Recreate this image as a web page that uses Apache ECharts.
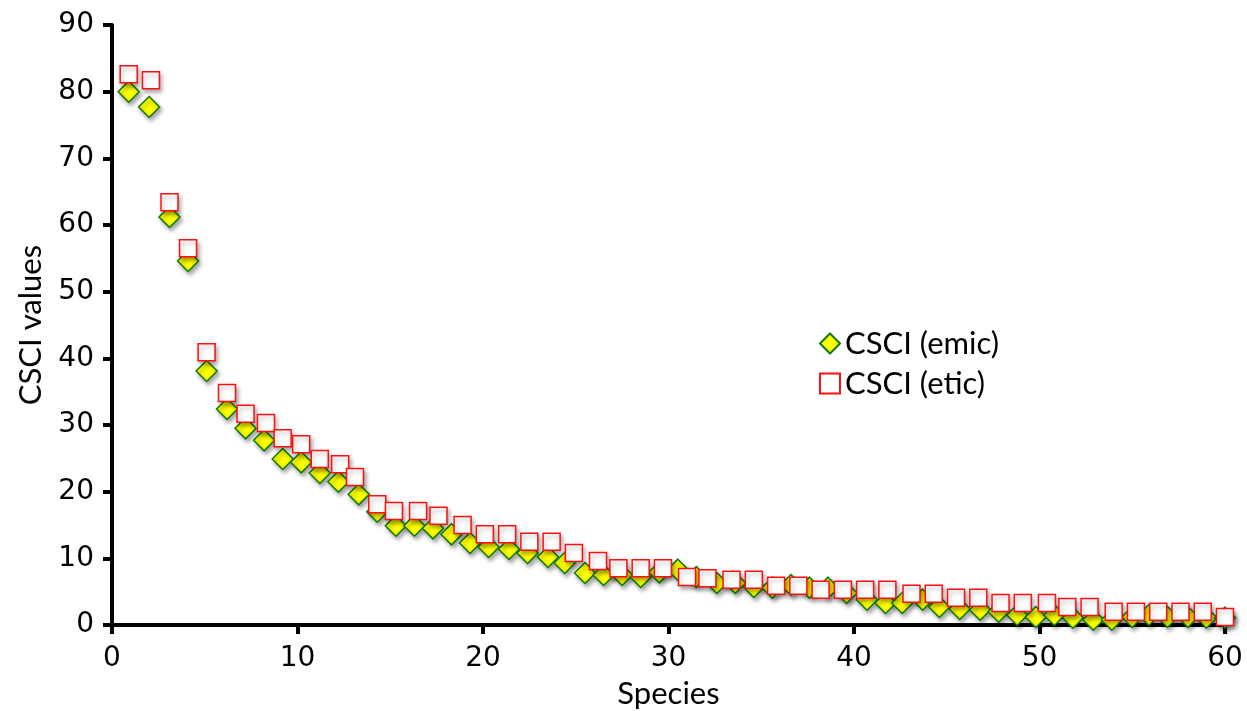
<!DOCTYPE html>
<html>
<head>
<meta charset="utf-8">
<script src="https://cdn.jsdelivr.net/npm/echarts@6/dist/echarts.min.js"></script>
<style>
html,body{margin:0;padding:0;background:#fff;}
#chart{width:1247px;height:711px;}
</style>
</head>
<body>
<div id="chart"></div>
<script>
// CSCI (emic) — diamonds
const emicX = [0.9,2.0,3.1,4.1,5.1,6.2,7.2,8.2,9.2,10.2,11.2,12.2,13.3,14.3,15.3,16.3,17.3,18.3,19.3,20.3,21.4,22.4,23.5,24.4,25.5,26.5,27.5,28.5,29.5,30.5,31.5,32.6,33.6,34.6,35.6,36.6,37.6,38.6,39.6,40.7,41.7,42.6,43.7,44.6,45.7,46.8,47.8,48.8,49.8,50.8,51.8,52.9,53.9,55.0,55.9,56.9,58.0,59.0,60.0];
const emicY = [80.0,77.7,61.2,54.6,38.1,32.4,29.5,27.7,24.9,24.4,22.8,21.5,19.6,17.0,14.9,14.9,14.5,13.6,12.3,11.7,11.4,10.8,10.2,9.3,7.8,7.5,7.5,7.2,7.9,8.3,7.2,6.3,6.3,5.7,5.6,6.0,5.6,5.6,4.8,3.8,3.3,3.3,3.8,2.7,2.4,2.3,2.0,1.5,1.2,1.5,1.1,0.8,0.8,1.2,1.5,1.2,1.2,1.1,1.1];
// CSCI (etic) — squares
const eticX = [0.9,2.1,3.1,4.1,5.1,6.2,7.2,8.3,9.2,10.2,11.2,12.3,13.1,14.3,15.2,16.5,17.6,18.9,20.1,21.3,22.5,23.7,24.9,26.2,27.3,28.5,29.7,31.0,32.1,33.4,34.6,35.8,37.0,38.2,39.4,40.6,41.8,43.1,44.3,45.5,46.7,47.9,49.1,50.4,51.5,52.7,54.0,55.2,56.4,57.6,58.8,60.0];
const eticY = [82.6,81.7,63.4,56.5,40.9,34.8,31.7,30.3,28.0,27.1,24.9,24.1,22.2,18.1,17.1,17.1,16.4,15.0,13.6,13.6,12.5,12.5,10.8,9.6,8.5,8.5,8.5,7.2,7.0,6.8,6.8,5.9,5.9,5.3,5.3,5.3,5.3,4.7,4.7,4.1,4.1,3.3,3.3,3.3,2.7,2.7,2.0,2.0,2.0,2.0,2.0,1.2];
const xTicks = {min:0, max:60, interval:10};
const yTicks = {min:0, max:90, interval:10};
const seriesNames = ['CSCI (emic)','CSCI (etic)'];

const zip = (xs, ys) => xs.map((x,i)=>[x, ys[i]]);
const chart = echarts.init(document.getElementById('chart'), null, {renderer:'canvas'});
const axisCommon = {
  axisLine:{show:true,onZero:false,lineStyle:{color:'#000',width:4}},
  axisTick:{show:true,length:9,lineStyle:{color:'#000',width:4}},
  splitLine:{show:false},
  nameTextStyle:{fontFamily:'Lato',fontSize:31,color:'#000'},
  axisLabel:{fontFamily:'DejaVu Sans',fontSize:28,color:'#000'}
};
chart.setOption({
  animation:false,
  backgroundColor:'#fff',
  grid:{left:112,right:22,top:25,bottom:86,containLabel:false,outerBoundsMode:'none'},
  legend:{
    orient:'vertical', left:814, top:323, itemGap:9, itemWidth:20, itemHeight:20,
    textStyle:{fontFamily:'Lato',fontSize:31,color:'#000'},
    data:[{name:seriesNames[0],icon:'diamond'},{name:seriesNames[1],icon:'rect'}]
  },
  xAxis:Object.assign({}, axisCommon, {
    type:'value', min:xTicks.min, max:xTicks.max, interval:xTicks.interval,
    name:'Species', nameLocation:'middle', nameGap:53,
    axisLabel:Object.assign({}, axisCommon.axisLabel, {margin:20})
  }),
  yAxis:Object.assign({}, axisCommon, {
    type:'value', min:yTicks.min, max:yTicks.max, interval:yTicks.interval,
    name:'CSCI values', nameLocation:'middle', nameGap:66,
    axisLabel:Object.assign({}, axisCommon.axisLabel, {margin:18})
  }),
  series:[
    {
      name:seriesNames[0], type:'scatter', symbol:'diamond', symbolSize:[21,21],
      data:zip(emicX, emicY),
      itemStyle:{color:'#FFFF00',borderColor:'#0B7A0B',borderWidth:1.5,opacity:1,
        shadowBlur:4,shadowOffsetX:2,shadowOffsetY:3,shadowColor:'rgba(0,0,0,0.35)'}
    },
    {
      name:seriesNames[1], type:'scatter', symbol:'rect', symbolSize:[17,17],
      data:zip(eticX, eticY),
      itemStyle:{color:'#FFFFFF',borderColor:'#FF1010',borderWidth:1.5,opacity:1,
        shadowBlur:4,shadowOffsetX:2,shadowOffsetY:3,shadowColor:'rgba(0,0,0,0.3)'}
    }
  ]
});
</script>
</body>
</html>
